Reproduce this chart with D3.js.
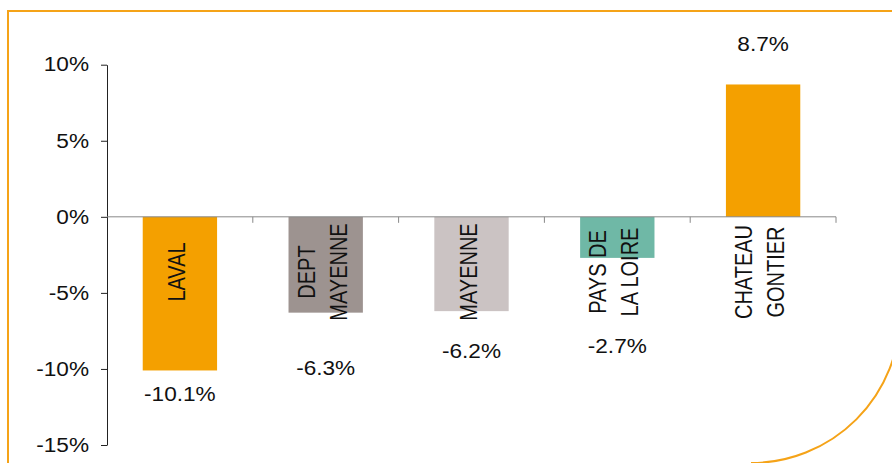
<!DOCTYPE html>
<html>
<head>
<meta charset="utf-8">
<script src="https://cdn.jsdelivr.net/npm/d3@7"></script>
<style>
  body { margin: 0; background: #fff; }
  svg { display: block; }
  text { font-family: "Liberation Sans", Arial, sans-serif; fill: #111; }
</style>
</head>
<body>
<script>
// Data
var categories = ["LAVAL", "DEPT MAYENNE", "MAYENNE", "PAYS DE LA LOIRE", "CHATEAU GONTIER"];
var categoryLines = [["LAVAL"], ["DEPT", "MAYENNE"], ["MAYENNE"], ["PAYS DE", "LA LOIRE"], ["CHATEAU", "GONTIER"]];
var values = [-10.1, -6.3, -6.2, -2.7, 8.7];
var valueLabels = ["-10.1%", "-6.3%", "-6.2%", "-2.7%", "8.7%"];
var tickValues = [-15, -10, -5, 0, 5, 10];
var barColors = ["#F4A000", "#9D9390", "#CBC3C3", "#6FB8A6", "#F4A000"];

// layout
var width = 892, height = 463;
var plot = {left: 107, right: 836, top: 64.7, bottom: 445};
var sx = 1.16;       // text is a bit wider than tall in the picture
var fontSize = 19.5;
// hand-placed value label baselines (px, from bar end)
var labelOffset = [31, 62, 47, 95, -33];

var svg = d3.select("body").append("svg")
	.attr("width", width)
	.attr("height", height);

// frame
var frame = svg.append("g")
	.attr("fill", "none")
	.attr("stroke", "#F5A318")
	.attr("stroke-width", 2);
frame.append("path").attr("d", "M8,464 L8,11 L900,11");
frame.append("path").attr("d", "M900,314 A149,149 0 0 1 751,463");

var x = d3.scaleBand()
	.domain(categories)
	.range([plot.left, plot.right])
	.paddingInner(0.49)
	.paddingOuter(0.245);

var y = d3.scaleLinear()
	.domain([-15, 10])
	.range([plot.bottom, plot.top]);

// bars
svg.selectAll("rect.bar")
	.data(values)
	.enter()
	.append("rect")
	.attr("class", "bar")
	.attr("x", function(d, i) { return x(categories[i]); })
	.attr("y", function(d) { return y(Math.max(0, d)); })
	.attr("width", x.bandwidth())
	.attr("height", function(d) { return Math.abs(y(d) - y(0)); })
	.attr("fill", function(d, i) { return barColors[i]; });

// y axis
var yAxis = d3.axisLeft(y)
	.tickValues(tickValues)
	.tickSize(6)
	.tickSizeOuter(0)
	.tickFormat(function(d) { return d + "%"; });

var yg = svg.append("g")
	.attr("transform", "translate(" + plot.left + ",0)")
	.call(yAxis);
yg.select(".domain").attr("stroke", "#222");
yg.selectAll(".tick line").attr("stroke", "#222");
yg.selectAll(".tick text")
	.attr("x", -18 / sx)
	.attr("transform", "scale(" + sx + ",1)")
	.style("font-size", fontSize + "px")
	.attr("fill", "#111");

// x axis line at zero with ticks between categories
var xg = svg.append("g").attr("stroke", "#888").attr("stroke-width", 1);
xg.append("line")
	.attr("x1", plot.left).attr("x2", plot.right)
	.attr("y1", y(0)).attr("y2", y(0));
xg.selectAll("line.tk")
	.data(d3.range(1, categories.length + 1))
	.enter()
	.append("line")
	.attr("class", "tk")
	.attr("x1", function(i) { return plot.left + i * x.step(); })
	.attr("x2", function(i) { return plot.left + i * x.step(); })
	.attr("y1", y(0))
	.attr("y2", y(0) + 6);

// value labels
svg.selectAll("g.vlabel")
	.data(values)
	.enter()
	.append("g")
	.attr("class", "vlabel")
	.attr("transform", function(d, i) {
		return "translate(" + (x(categories[i]) + x.bandwidth() / 2) + "," + (y(d) + labelOffset[i]) + ") scale(" + sx + ",1)";
	})
	.append("text")
	.attr("text-anchor", "middle")
	.style("font-size", fontSize + "px")
	.text(function(d, i) { return valueLabels[i]; });

// category labels, rotated
var lineGap = 32;
categoryLines.forEach(function(lines, i) {
	var cx = x(categories[i]) + x.bandwidth() / 2;
	lines.forEach(function(line, j) {
		var bx = cx + 5 + (j - (lines.length - 1) / 2) * lineGap;
		svg.append("g")
			.attr("transform", "translate(" + bx + ",272) scale(" + sx + ",1) rotate(-90)")
			.append("text")
			.attr("text-anchor", "middle")
			.style("font-size", "20px")
			.text(line);
	});
});
</script>
</body>
</html>
